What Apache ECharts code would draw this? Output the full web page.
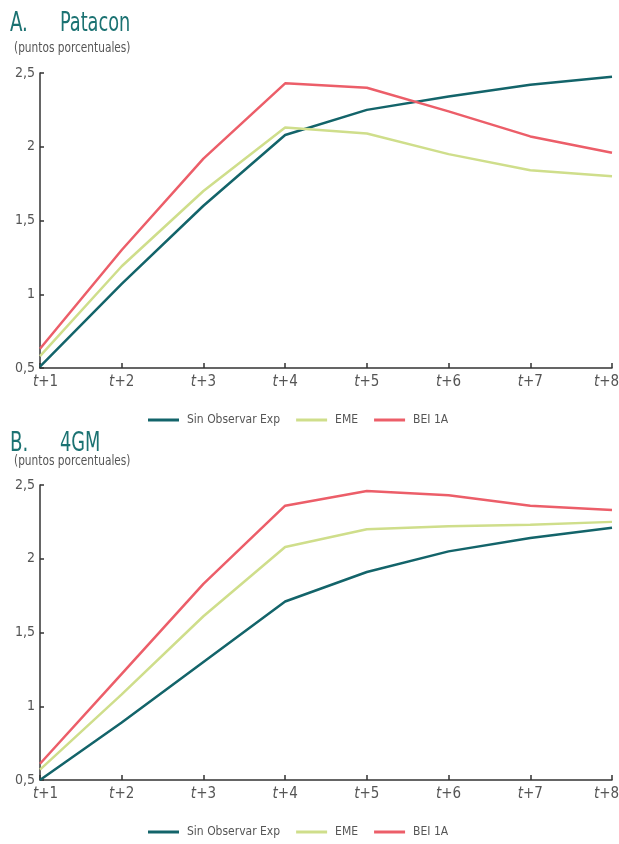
<!DOCTYPE html>
<html><head><meta charset="utf-8">
<script src="https://cdn.jsdelivr.net/npm/echarts@6/dist/echarts.min.js"></script>
<style>html,body{margin:0;padding:0;background:#fff}#c{width:619px;height:844px}</style>
</head><body><div id="c"></div>
<script>
const categories = ['t+1','t+2','t+3','t+4','t+5','t+6','t+7','t+8'];
const seriesNames = ['Sin Observar Exp','EME','BEI 1A'];
const patSin = [0.51, 1.07, 1.60, 2.08, 2.25, 2.34, 2.42, 2.475];
const patEME = [0.58, 1.19, 1.70, 2.13, 2.09, 1.95, 1.84, 1.80];
const patBEI = [0.63, 1.30, 1.92, 2.43, 2.40, 2.24, 2.07, 1.96];
const gmSin = [0.50, 0.89, 1.30, 1.71, 1.91, 2.05, 2.14, 2.21];
const gmEME = [0.57, 1.08, 1.61, 2.08, 2.20, 2.22, 2.23, 2.25];
const gmBEI = [0.61, 1.22, 1.83, 2.36, 2.46, 2.43, 2.36, 2.33];

const colors = ['#13646a', '#cfde8b', '#ec5e69'];
const FONT = '"DejaVu Sans Condensed","Liberation Sans Narrow",sans-serif';
const grey = '#555';
const titleColor = '#1b7272';

const chart = echarts.init(document.getElementById('c'));
function xAxis(gi){
  return {type:'category', gridIndex:gi, data:categories, boundaryGap:false,
    axisLine:{lineStyle:{color:'#333', width:1.5}},
    axisTick:{inside:true, length:5, interval:0, lineStyle:{color:'#333', width:1.5}},
    axisLabel:{margin:7, interval:0, hideOverlap:false, fontFamily:FONT, fontSize:15, color:grey,
      formatter: (v, i) => {
        const s = '{i|t}' + v.slice(1);
        if (i === 0) return '{p|}' + s;
        if (i === categories.length - 1) return s + '{p|}';
        return s;
      },
      rich:{i:{fontStyle:'italic', fontFamily:FONT, fontSize:15, color:grey},
            p:{width:11}}},
    splitLine:{show:false}};
}
function yAxis(gi){
  return {type:'value', gridIndex:gi, min:0.5, max:2.5, interval:0.5,
    axisLine:{show:true, lineStyle:{color:'#333', width:1.5}},
    axisTick:{show:true, inside:true, length:4, lineStyle:{color:'#333', width:1.5}},
    axisLabel:{margin:5, fontFamily:FONT, fontSize:14, color:grey,
      formatter: v => String(v).replace('.', ',')},
    splitLine:{show:false}};
}
function ser(name, data, gi, ci){
  return {name, type:'line', xAxisIndex:gi, yAxisIndex:gi, data, symbol:'none',
    lineStyle:{color:colors[ci], width:2.5}, itemStyle:{color:colors[ci]}, animation:false};
}
function legend(top){
  return {top, left:143, icon:'rect', itemWidth:31, itemHeight:3, itemGap:16,
    textStyle:{fontFamily:FONT, fontSize:12, color:grey, padding:[0,0,0,3]},
    data: seriesNames};
}
function txt(text, x, y, size, color, sx){
  return {type:'text', x, y, scaleX:sx, silent:true,
    style:{text, fontFamily:FONT, fontSize:size, fill:color, textVerticalAlign:'top'}};
}
chart.setOption({
  animation:false,
  graphic:[
    txt('A.', 10, 10, 27, titleColor, 0.75),
    txt('Patacon', 60, 10, 27, titleColor, 0.73),
    txt('(puntos porcentuales)', 14, 41, 14, grey, 0.84),
    txt('B.', 10, 430, 27, titleColor, 0.75),
    txt('4GM', 60, 430, 27, titleColor, 0.73),
    txt('(puntos porcentuales)', 14, 454, 14, grey, 0.84)
  ],
  legend:[legend(409), legend(821)],
  grid:[
    {left:40, right:7, top:73, bottom:476, outerBoundsMode:'none', containLabel:false},
    {left:40, right:7, top:485, bottom:64, outerBoundsMode:'none', containLabel:false}
  ],
  xAxis:[xAxis(0), xAxis(1)],
  yAxis:[yAxis(0), yAxis(1)],
  series:[
    ser(seriesNames[0], patSin, 0, 0),
    ser(seriesNames[1], patEME, 0, 1),
    ser(seriesNames[2], patBEI, 0, 2),
    ser(seriesNames[0], gmSin, 1, 0),
    ser(seriesNames[1], gmEME, 1, 1),
    ser(seriesNames[2], gmBEI, 1, 2)
  ]
});
</script></body></html>
